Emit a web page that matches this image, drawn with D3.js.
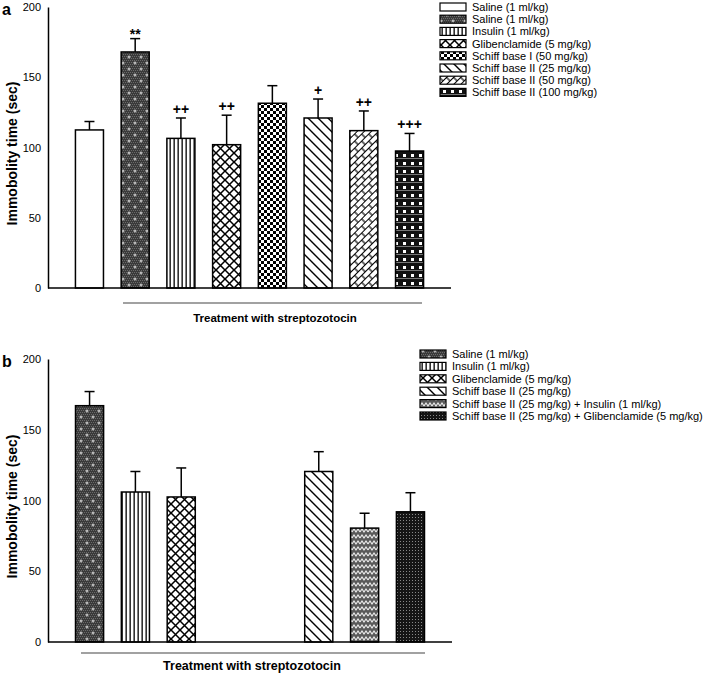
<!DOCTYPE html>
<html><head><meta charset="utf-8">
<script src="https://cdn.jsdelivr.net/npm/d3@7"></script>
<style>body{margin:0;background:#fff}svg{display:block;font-family:Arial,"Liberation Sans",sans-serif}</style>
</head><body>
<script>
// ---- Data ----
const slotsA = ["s0","s1","s2","s3","s4","s5","s6","s7"];
const catsA = ["Saline (1 ml/kg)","Saline (1 ml/kg)","Insulin (1 ml/kg)","Glibenclamide (5 mg/kg)","Schiff base I (50 mg/kg)","Schiff base II (25 mg/kg)","Schiff base II (50 mg/kg)","Schiff base II (100 mg/kg)"];
const valsA = [112.5, 168, 106.5, 102, 131.5, 121, 112, 97.5];
const errA  = [6, 9.5, 14.5, 21, 12.5, 13.5, 14, 12.5];
const sigA  = ["", "**", "++", "++", "", "+", "++", "+++"];
const patA  = ["white","stipple","vlines","cross","checker","diag","herring","darksq"];

const slotsB = ["s0","s1","s2","s5","s6","s7"];
const catsB = ["Saline (1 ml/kg)","Insulin (1 ml/kg)","Glibenclamide (5 mg/kg)","Schiff base II (25 mg/kg)","Schiff base II (25 mg/kg) + Insulin (1 ml/kg)","Schiff base II (25 mg/kg) + Glibenclamide (5 mg/kg)"];
const valsB = [167, 106, 102.5, 120.5, 80.5, 92];
const errB  = [10, 14.5, 20.5, 14, 10.5, 13.5];
const patB  = ["stipple","vlines","cross","diag","zigzag","darkdot"];

const yTicks = [0, 50, 100, 150, 200];
const yLabel = "Immobolity time (sec)";
const xLabel = "Treatment with streptozotocin";

// ---- SVG ----
const W = 708, H = 674;
const svg = d3.select("body").append("svg").attr("width", W).attr("height", H);
const defs = svg.append("defs");

function pat(id, w, h, draw, transform) {
  const p = defs.append("pattern").attr("id", id).attr("patternUnits", "userSpaceOnUse")
    .attr("width", w).attr("height", h);
  if (transform) p.attr("patternTransform", transform);
  draw(p);
}
pat("white", 4, 4, p => p.append("rect").attr("width", 4).attr("height", 4).attr("fill", "#fff"));
pat("stipple", 12, 12, p => {
  p.append("rect").attr("width", 12).attr("height", 12).attr("fill", "#3a3a3a");
  for (let i = 0; i < 12; i += 2) for (let j = (i/2)%2; j < 12; j += 2)
    p.append("rect").attr("x", j).attr("y", i).attr("width", 1).attr("height", 1).attr("fill", "#6a6a6a");
  [[3,3],[9,9]].forEach(([x,y]) => {
    p.append("rect").attr("x", x-1.5).attr("y", y-0.5).attr("width", 3).attr("height", 1).attr("fill", "#ddd");
    p.append("rect").attr("x", x-0.5).attr("y", y-1.5).attr("width", 1).attr("height", 3).attr("fill", "#ddd");
  });
});
pat("vlines", 4, 4, p => {
  p.append("rect").attr("width", 4).attr("height", 4).attr("fill", "#fff");
  p.append("rect").attr("x", 1.5).attr("width", 1.3).attr("height", 4).attr("fill", "#000");
});
pat("cross", 9, 9, p => {
  p.append("rect").attr("width", 9).attr("height", 9).attr("fill", "#fff");
  p.append("path").attr("d", "M-1,-1L10,10M-1,10L10,-1").attr("stroke", "#000").attr("stroke-width", 1.5);
});
pat("checker", 6, 6, p => {
  p.append("rect").attr("width", 6).attr("height", 6).attr("fill", "#fff");
  p.append("rect").attr("width", 3).attr("height", 3).attr("fill", "#000");
  p.append("rect").attr("x", 3).attr("y", 3).attr("width", 3).attr("height", 3).attr("fill", "#000");
});
pat("diag", 10, 10, p => {
  p.append("rect").attr("width", 10).attr("height", 10).attr("fill", "#fff");
  p.append("path").attr("d", "M-1,-1L11,11M-6,4L6,16M4,-6L16,6").attr("stroke", "#000").attr("stroke-width", 1.4);
});
pat("herring", 10, 10, p => {
  p.append("rect").attr("width", 10).attr("height", 10).attr("fill", "#fff");
  p.append("path").attr("d", "M0,0.5H10M0,5.5H10M1,0V5.5M6,5.5V10")
    .attr("stroke", "#000").attr("stroke-width", 1.2);
}, "rotate(-45)");
pat("darksq", 8, 8, p => {
  p.append("rect").attr("width", 8).attr("height", 8).attr("fill", "#111");
  p.append("rect").attr("x", 0).attr("y", 6).attr("width", 8).attr("height", 1).attr("fill", "#777");
  p.append("rect").attr("x", 3).attr("y", 2).attr("width", 3).attr("height", 3).attr("fill", "#fff");
});
pat("zigzag", 8, 6, p => {
  p.append("rect").attr("width", 8).attr("height", 6).attr("fill", "#5a5a5a");
  p.append("path").attr("d", "M0,4L2,1L4,4L6,1L8,4").attr("fill", "none").attr("stroke", "#eee").attr("stroke-width", 1.1);
});
pat("darkdot", 3, 3, p => {
  p.append("rect").attr("width", 3).attr("height", 3).attr("fill", "#151515");
  p.append("rect").attr("x", 1).attr("y", 1).attr("width", 1).attr("height", 1).attr("fill", "#888");
});

function panel(cfg) {
  const g = svg.append("g");
  const x = d3.scaleBand().domain(slotsA).range([cfg.x0, cfg.x1]).paddingInner(0.387).paddingOuter(0.6);
  const y = d3.scaleLinear().domain([0, 200]).range([cfg.yb, cfg.yt]);

  // panel letter
  g.append("text").attr("x", 2).attr("y", cfg.yt + 8).attr("font-size", 16).attr("font-weight", "bold").text(cfg.letter);

  // y axis
  const ya = g.append("g").attr("transform", `translate(${cfg.x0},0)`)
    .call(d3.axisLeft(y).tickValues(yTicks).tickSize(0).tickPadding(7));
  ya.select(".domain").attr("stroke", "#000").attr("stroke-width", 1.5);
  ya.selectAll("text").attr("font-size", 11).attr("font-family", "Arial, 'Liberation Sans', sans-serif").attr("fill", "#000");

  // y label
  g.append("text").attr("transform", `translate(${cfg.ylx},${(cfg.yb + cfg.yt)/2 + 6}) rotate(-90)`)
    .attr("text-anchor", "middle").attr("font-size", 14).attr("font-weight", "bold").text(yLabel);

  // bars
  const data = cfg.vals.map((v, i) => ({ slot: cfg.slots[i], v, e: cfg.err[i], p: cfg.pats[i], s: cfg.sig ? cfg.sig[i] : "" }));
  const bars = g.append("g");
  data.forEach(d => {
    const cx = x(d.slot) + x.bandwidth() / 2;
    bars.append("line").attr("x1", cx).attr("x2", cx).attr("y1", y(d.v)).attr("y2", y(d.v + d.e))
      .attr("stroke", "#000").attr("stroke-width", 1.5);
    bars.append("line").attr("x1", cx - 5).attr("x2", cx + 5).attr("y1", y(d.v + d.e)).attr("y2", y(d.v + d.e))
      .attr("stroke", "#000").attr("stroke-width", 1.5);
    bars.append("rect").attr("x", x(d.slot)).attr("y", y(d.v)).attr("width", x.bandwidth()).attr("height", y(0) - y(d.v))
      .attr("fill", `url(#${d.p})`).attr("stroke", "#000").attr("stroke-width", 1.5);
    if (d.s) {
      bars.append("text").attr("x", cx).attr("y", y(d.v + d.e) - (d.s[0] === "*" ? 0 : 4))
        .attr("text-anchor", "middle").attr("font-size", 14).attr("font-weight", "bold").text(d.s);
    }
  });

  // x axis baseline
  g.append("line").attr("x1", cfg.x0).attr("x2", cfg.x1).attr("y1", y(0)).attr("y2", y(0))
    .attr("stroke", "#000").attr("stroke-width", 1.5);

  // treatment underline and label
  g.append("line").attr("x1", cfg.ux0).attr("x2", cfg.ux1).attr("y1", cfg.uy).attr("y2", cfg.uy)
    .attr("stroke", "#444").attr("stroke-width", 1.2);
  g.append("text").attr("x", cfg.tx).attr("y", cfg.ty).attr("text-anchor", "middle")
    .attr("font-size", cfg.tfs).attr("font-weight", "bold").text(xLabel);

  // legend
  const lg = g.append("g");
  cfg.cats.forEach((c, i) => {
    const yy = cfg.ly + i * cfg.lstep;
    lg.append("rect").attr("x", cfg.lx).attr("y", yy - 4).attr("width", 26).attr("height", 8)
      .attr("fill", `url(#${cfg.pats[i]})`).attr("stroke", "#000").attr("stroke-width", 1.2);
    lg.append("text").attr("x", cfg.lx + 32).attr("y", yy + 4).attr("font-size", 11).attr("fill", "#000").text(c);
  });
}

panel({ letter: "a", x0: 48, x1: 451, yb: 288, yt: 7, ylx: 17, slots: slotsA, vals: valsA, err: errA, pats: patA, sig: sigA,
  ux0: 123, ux1: 422, uy: 303, tx: 275, ty: 322, tfs: 11.5, cats: catsA, lx: 440, ly: 7, lstep: 12.2 });
panel({ letter: "b", x0: 48, x1: 452, yb: 642, yt: 359, ylx: 17, slots: slotsB, vals: valsB, err: errB, pats: patB, sig: null,
  ux0: 81, ux1: 425, uy: 653, tx: 252, ty: 670, tfs: 12.5, cats: catsB, lx: 420, ly: 354, lstep: 12.4 });
</script>
</body></html>
